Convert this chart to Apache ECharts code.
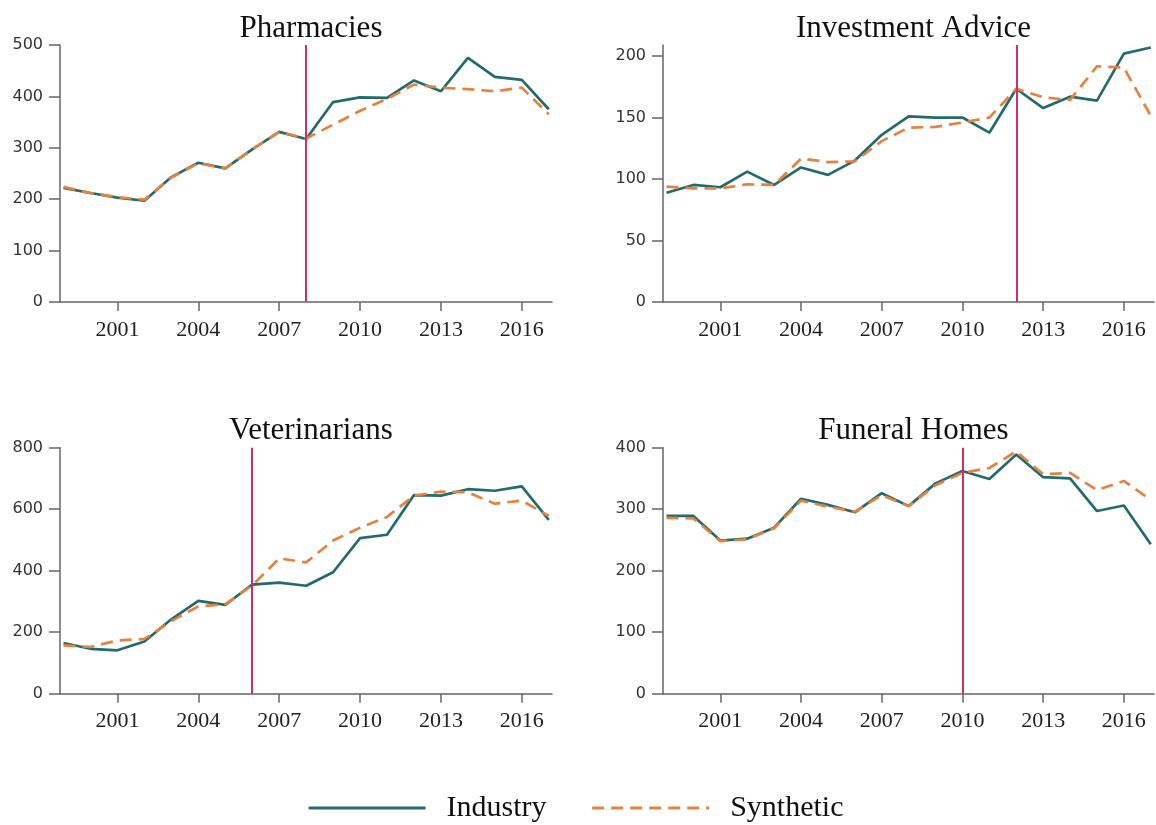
<!DOCTYPE html>
<html>
<head>
<meta charset="utf-8">
<script src="https://cdn.jsdelivr.net/npm/echarts@6/dist/echarts.min.js"></script>
<style>
html,body{margin:0;padding:0;background:#fff;}
#chart{width:1156px;height:825px;}
</style>
</head>
<body>
<div id="chart"></div>
<script>
var years = [1999,2000,2001,2002,2003,2004,2005,2006,2007,2008,2009,2010,2011,2012,2013,2014,2015,2016,2017];
var xTickLabels = [2001,2004,2007,2010,2013,2016];

var panelTitles = ['Pharmacies','Investment Advice','Veterinarians','Funeral Homes'];
var treatYears = [2008, 2012, 2006, 2010];

var pharmIndustry  = [222,212,203,197,243,271,260,297,331,317,389,398,397,431,410,475,438,432,375];
var pharmSynthetic = [224,212,204,199,242,270,260,297,331,318,345,372,395,423,417,414,410,417,365];

var investIndustry  = [88.9,95.2,93.3,106,95.2,109.4,103.4,115,136,151,150,150,137.7,173.4,157.7,167,163.8,202,207];
var investSynthetic = [93.8,92.4,92.4,95.7,95.2,116.6,113.8,114.4,130.8,141.8,142.4,146,150,173.4,166.5,164.3,191.7,190.6,151.4];

var vetIndustry  = [165,146,141,170,242,302,289,355,361,351,395,506,517,646,644,665,660,674,565];
var vetSynthetic = [157,152,173,178,236,284,291,352,440,427,498,540,575,644,657,655,618,628,578];

var funeralIndustry  = [289,289,249,252,270,317,307,295,326,305,342,362,349,389,352,350,297,306,243];
var funeralSynthetic = [286,285,248,251,269,314,304,296,323,305,339,359,367,394,357,359,331,346,315];

var yTicks = [[0,100,200,300,400,500],[0,50,100,150,200],[0,200,400,600,800],[0,100,200,300,400]];
var yMax = [500, 209, 800, 400];

var industryList = [pharmIndustry, investIndustry, vetIndustry, funeralIndustry];
var syntheticList = [pharmSynthetic, investSynthetic, vetSynthetic, funeralSynthetic];

var TEAL = '#236b6c';
var ORANGE = '#e5823f';
var RED = '#d02e68';
var AXIS = '#666666';

function pairs(vals){ return years.map(function(y,i){ return [y, vals[i]]; }); }

var grids = [
  {left:60,  top:45,    width:492, height:257},
  {left:663, top:45,    width:491, height:257},
  {left:60,  top:447.7, width:492, height:246},
  {left:663, top:447.7, width:491, height:246}
];
var titleTops = [8, 8, 410, 410];

var option = {
  animation:false,
  backgroundColor:'#ffffff',
  title: grids.map(function(g,i){
    return {text:panelTitles[i], left:g.left + g.width/2, top:titleTops[i], textAlign:'center',
      textStyle:{fontFamily:'Liberation Serif', fontSize:31, fontWeight:'normal', color:'#111'}};
  }),
  grid: grids,
  legend:{
    data:['Industry','Synthetic'],
    left:302, top:788,
    itemWidth:117, itemHeight:20, itemGap:44,
    itemStyle:{opacity:0},
    lineStyle:{width:3.2},
    textStyle:{fontFamily:'Liberation Serif', fontSize:30, color:'#111', padding:[0,0,0,16]}
  },
  xAxis: grids.map(function(g,i){
    return {type:'value', gridIndex:i, min:1998.87, max:2017.12,
      axisLine:{show:true, onZero:false, lineStyle:{color:AXIS, width:1.5}},
      axisTick:{show:true, length:9, customValues:xTickLabels, lineStyle:{color:AXIS, width:1.5}},
      axisLabel:{customValues:xTickLabels, margin:17, fontFamily:'Liberation Serif', fontSize:22, color:'#222',
        formatter:function(v){return String(Math.round(v));}},
      splitLine:{show:false}};
  }),
  yAxis: grids.map(function(g,i){
    return {type:'value', gridIndex:i, min:0, max:yMax[i],
      axisLine:{show:true, lineStyle:{color:AXIS, width:1.5}},
      axisTick:{show:true, length:11, customValues:yTicks[i], lineStyle:{color:AXIS, width:1.5}},
      axisLabel:{customValues:yTicks[i], margin:17, fontFamily:'DejaVu Sans', fontSize:16, color:'#333'},
      splitLine:{show:false}};
  }),
  series: []
};

for (var i=0;i<4;i++){
  option.series.push({
    name:'Industry', type:'line', xAxisIndex:i, yAxisIndex:i, data:pairs(industryList[i]),
    symbol:'none', lineStyle:{color:TEAL, width:2.7}, itemStyle:{color:TEAL}, z:3,
    markLine:{silent:true, symbol:'none', label:{show:false},
      lineStyle:{color:RED, width:2, type:'solid'}, data:[{xAxis:treatYears[i]}]}
  });
  option.series.push({
    name:'Synthetic', type:'line', xAxisIndex:i, yAxisIndex:i, data:pairs(syntheticList[i]),
    symbol:'none', lineStyle:{color:ORANGE, width:2.7, type:[12,7]}, itemStyle:{color:ORANGE}, z:4
  });
}

var chart = echarts.init(document.getElementById('chart'));
chart.setOption(option);
</script>
</body>
</html>
